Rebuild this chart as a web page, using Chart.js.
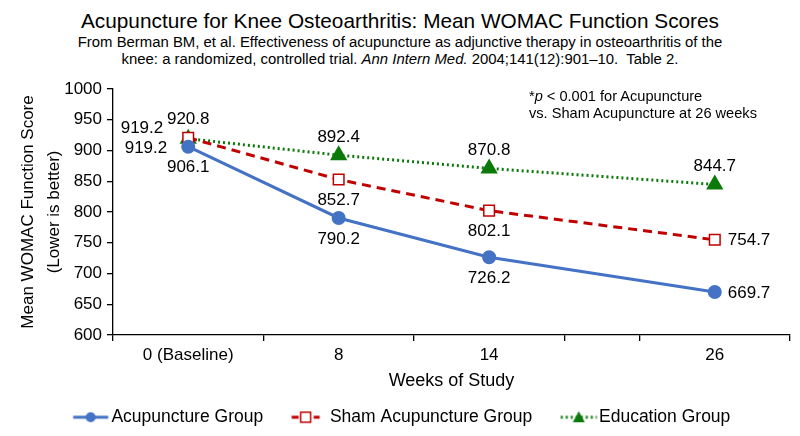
<!DOCTYPE html>
<html>
<head>
<meta charset="utf-8">
<script src="https://cdn.jsdelivr.net/npm/chart.js@4.4.1/dist/chart.umd.min.js"></script>
<style>
  body { margin: 0; background: #fff; font-family: "Liberation Sans", Arial, sans-serif; color: #000; }
  #wrap { position: relative; width: 800px; height: 436px; overflow: hidden; background: #fff; }
  #title { position: absolute; top: 8px; left: 0; width: 800px; text-align: center; font-size: 20.8px; line-height: 26px; }
  #sub { position: absolute; top: 34px; left: 0; width: 800px; text-align: center; font-size: 14.9px; line-height: 17px; }
  #note { position: absolute; left: 529px; top: 88px; font-size: 14.6px; line-height: 17px; z-index: 2; }
  #box { position: absolute; left: 0; top: 70px; width: 800px; height: 366px; }
</style>
</head>
<body>
<div id="wrap">
  <div id="title">Acupuncture for Knee Osteoarthritis: Mean WOMAC Function Scores</div>
  <div id="sub">From Berman BM, et al. Effectiveness of acupuncture as adjunctive therapy in osteoarthritis of the<br>knee: a randomized, controlled trial. <i>Ann Intern Med.</i> 2004;141(12):901–10.&nbsp; Table 2.</div>
  <div id="note">*<i>p</i> &lt; 0.001 for Acupuncture<br>vs. Sham Acupuncture at 26 weeks</div>
  <div id="box"><canvas id="chart"></canvas></div>
</div>
<script>
// weeks of study, and where each sits on the (uneven) category axis
const weekLabels = ['0 (Baseline)', '8', '14', '26'];
const weekPos = [0, 1, 2, 3.5];
const tickEdges = [-0.5, 0.5, 1.5, 2.5, 3, 4];

// mean WOMAC function scores
const acupuncture = [906.1, 790.2, 726.2, 669.7];
const sham = [920.8, 852.7, 802.1, 754.7];
const education = [919.2, 892.4, 870.8, 844.7];
// leftover label shown next to the baseline points in the original
const strayLabel = '919.2';

const FONT = '"Liberation Sans", Arial, sans-serif';
const BLUE = '#4472C4';
const RED = '#C00000';
const GREEN = '#0B7A0B';

// where each value label goes relative to its point
const places = {
  above: [0, -18, 'center'],
  below: [0, 21, 'center'],
  right: [13, 1, 'left'],
  upleft: [-25, -10, 'right']
};

// legend swatch: line + marker, drawn on a small canvas
function legendIcon(color, dash, len, marker) {
  const c = document.createElement('canvas');
  c.width = 63; c.height = 16;
  const g = c.getContext('2d');
  const x0 = 23.5, x1 = x0 + len, mid = (x0 + x1) / 2;
  g.strokeStyle = color;
  g.lineWidth = 3;
  g.setLineDash(dash);
  g.beginPath(); g.moveTo(x0, 8); g.lineTo(x1, 8); g.stroke();
  g.setLineDash([]);
  g.fillStyle = color;
  if (marker === 'circle') {
    g.beginPath(); g.arc(mid, 8, 5, 0, Math.PI * 2); g.fill();
  } else if (marker === 'square') {
    g.fillStyle = '#fff';
    g.fillRect(mid - 5, 3, 10, 10);
    g.lineWidth = 1.5;
    g.strokeRect(mid - 5, 3, 10, 10);
  } else {
    g.beginPath(); g.moveTo(mid, 2); g.lineTo(mid + 6, 13); g.lineTo(mid - 6, 13); g.closePath(); g.fill();
  }
  return c;
}

const icons = [
  legendIcon(BLUE, [], 35, 'circle'),
  legendIcon(RED, [7, 4], 28, 'square'),
  legendIcon(GREEN, [2, 3], 36, 'triangle')
];

function toPoints(values) {
  return values.map((v, i) => ({ x: weekPos[i], y: v }));
}

const valueLabels = {
  id: 'valueLabels',
  afterDatasetsDraw(chart) {
    const ctx = chart.ctx;
    ctx.save();
    ctx.font = '17px ' + FONT;
    ctx.fillStyle = '#000';
    ctx.textBaseline = 'middle';
    chart.data.datasets.forEach((ds, i) => {
      const meta = chart.getDatasetMeta(i);
      meta.data.forEach((pt, j) => {
        const p = places[ds.place[j]];
        ctx.textAlign = p[2];
        ctx.fillText(ds.data[j].y.toFixed(1), pt.x + p[0], pt.y + p[1]);
      });
    });
    // the extra baseline label, left of the acupuncture point
    const first = chart.getDatasetMeta(0).data[0];
    ctx.textAlign = 'right';
    ctx.fillText(strayLabel, first.x - 21, first.y + 2);
    ctx.restore();
  }
};

new Chart(document.getElementById('chart'), {
  type: 'line',
  data: {
    datasets: [
      {
        label: 'Acupuncture Group',
        data: toPoints(acupuncture),
        place: ['below', 'below', 'below', 'right'],
        borderColor: BLUE,
        backgroundColor: BLUE,
        borderWidth: 3,
        pointStyle: 'circle',
        pointRadius: 5.5,
        pointBackgroundColor: BLUE,
        pointBorderColor: BLUE,
        tension: 0
      },
      {
        label: 'Sham Acupuncture Group',
        data: toPoints(sham),
        place: ['above', 'below', 'below', 'right'],
        borderColor: RED,
        backgroundColor: '#fff',
        borderWidth: 3,
        borderDash: [9, 6],
        pointStyle: 'rect',
        pointRadius: 7.5,
        pointBorderWidth: 1.5,
        pointBackgroundColor: '#fff',
        pointBorderColor: RED,
        tension: 0
      },
      {
        label: 'Education Group',
        data: toPoints(education),
        place: ['upleft', 'above', 'above', 'above'],
        borderColor: GREEN,
        backgroundColor: GREEN,
        borderWidth: 3,
        borderDash: [2, 3],
        pointStyle: 'triangle',
        pointRadius: 7,
        pointBackgroundColor: GREEN,
        pointBorderColor: GREEN,
        tension: 0
      }
    ]
  },
  options: {
    responsive: true,
    maintainAspectRatio: false,
    animation: false,
    layout: { padding: { left: 0, right: 10, top: 19, bottom: 0 } },
    plugins: {
      tooltip: { enabled: false },
      legend: {
        position: 'bottom',
        labels: {
          usePointStyle: true,
          pointStyleWidth: 43,
          padding: 15,
          color: '#000',
          font: { family: FONT, size: 17.5 },
          generateLabels(chart) {
            const items = Chart.defaults.plugins.legend.labels.generateLabels(chart);
            items.forEach((it, i) => { it.pointStyle = icons[i]; });
            return items;
          }
        }
      }
    },
    scales: {
      x: {
        type: 'linear',
        min: -0.5,
        max: 4,
        afterBuildTicks: s => { s.ticks = tickEdges.map(v => ({ value: v })); },
        ticks: { display: false },
        grid: { drawOnChartArea: false, drawTicks: true, tickLength: 6, color: '#000', lineWidth: 1.3 },
        border: { color: '#000', width: 1.3 }
      },
      x2: {
        type: 'linear',
        position: 'bottom',
        min: -0.5,
        max: 4,
        afterBuildTicks: s => { s.ticks = weekPos.map(v => ({ value: v })); },
        ticks: {
          autoSkip: false,
          maxRotation: 0,
          padding: 6,
          color: '#000',
          font: { family: FONT, size: 17, lineHeight: 1.0 },
          callback: (v, i) => weekLabels[i]
        },
        grid: { display: false, drawTicks: false },
        border: { display: false },
        title: {
          display: true,
          text: 'Weeks of Study',
          color: '#000',
          font: { family: FONT, size: 18 },
          padding: { top: 0, bottom: 2 }
        }
      },
      y: {
        min: 600,
        max: 1000,
        afterFit: s => { s.width = 113; },
        ticks: { stepSize: 50, padding: 5, color: '#000', font: { family: FONT, size: 17 }, callback: v => String(v) },
        grid: { drawOnChartArea: false, drawTicks: true, tickLength: 6, color: '#000', lineWidth: 1.3 },
        border: { color: '#000', width: 1.3 },
        title: {
          display: true,
          text: ['Mean WOMAC Function Score', '(Lower is better)'],
          color: '#000',
          font: { family: FONT, size: 17, lineHeight: 1.55 },
          padding: { top: 15, bottom: 0 }
        }
      }
    }
  },
  plugins: [valueLabels]
});
</script>
</body>
</html>
